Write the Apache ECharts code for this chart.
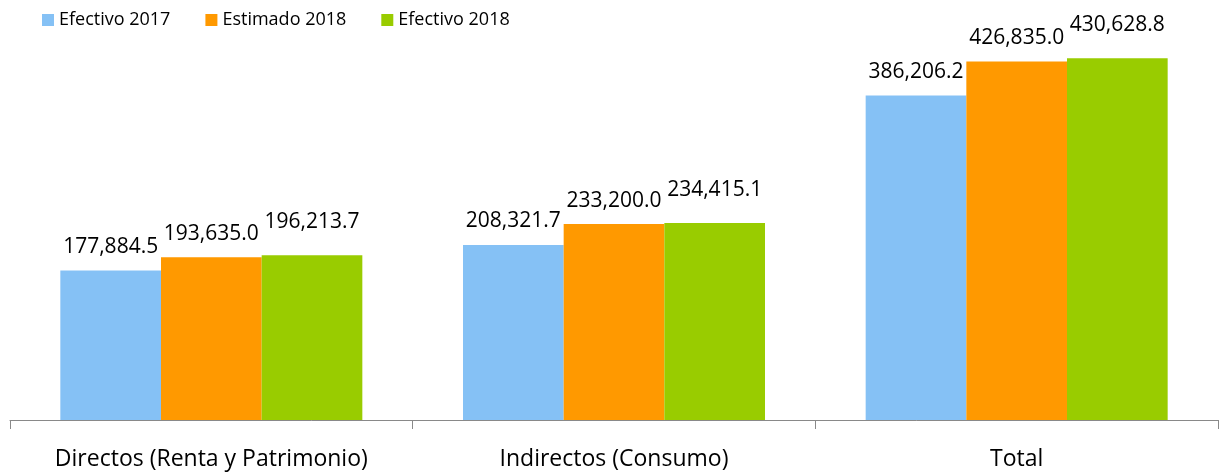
<!DOCTYPE html>
<html>
<head>
<meta charset="utf-8">
<script src="https://cdn.jsdelivr.net/npm/echarts@6/dist/echarts.min.js"></script>
<style>
html,body{margin:0;padding:0;background:#fff;}
#chart{width:1219px;height:472px;}
</style>
</head>
<body>
<div id="chart"></div>
<script>
const categories = ['Directos (Renta y Patrimonio)', 'Indirectos (Consumo)', 'Total'];
const seriesNames = ['Efectivo 2017', 'Estimado 2018', 'Efectivo 2018'];
const efectivo2017 = [177884.5, 208321.7, 386206.2];
const estimado2018 = [193635.0, 233200.0, 426835.0];
const efectivo2018 = [196213.7, 234415.1, 430628.8];
const colors = ['#85C1F5', '#FF9900', '#99CC00'];

const fmt = v => v.toLocaleString('en-US', {minimumFractionDigits: 1, maximumFractionDigits: 1});
const FONT = '"Open Sans", "Noto Sans", sans-serif';

const chart = echarts.init(document.getElementById('chart'));
const mk = (name, data, color, dist) => ({
  name, type: 'bar', data,
  itemStyle: {color},
  barGap: '0%', barCategoryGap: '25%',
  label: {
    show: true, position: 'top', distance: dist,
    formatter: p => fmt(p.value),
    color: '#000', fontFamily: FONT, fontSize: 21
  }
});
chart.setOption({
  animation: false,
  color: colors,
  legend: {
    left: 37, top: 6,
    itemWidth: 12, itemHeight: 12, itemGap: 35,
    icon: 'rect',
    textStyle: {fontFamily: FONT, fontSize: 18, color: '#000'},
    data: seriesNames
  },
  grid: {left: 10, right: 1, top: 0, bottom: 52},
  xAxis: {
    type: 'category', data: categories,
    axisLine: {lineStyle: {color: '#898989', width: 1}},
    axisTick: {show: true, length: 9, lineStyle: {color: '#898989'}},
    axisLabel: {interval: 0, margin: 28, fontFamily: FONT, fontSize: 23, color: '#000'}
  },
  yAxis: {
    type: 'value', min: 0, max: 500000, show: false,
    splitLine: {show: false}
  },
  series: [
    mk(seriesNames[0], efectivo2017, colors[0], 13),
    mk(seriesNames[1], estimado2018, colors[1], 13),
    mk(seriesNames[2], efectivo2018, colors[2], 23)
  ]
});
</script>
</body>
</html>
